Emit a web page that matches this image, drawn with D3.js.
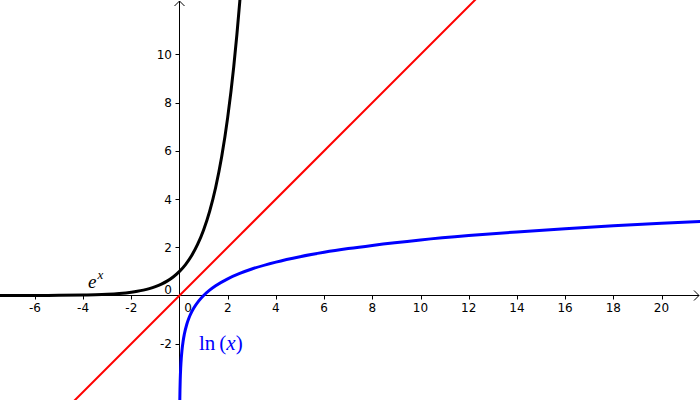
<!DOCTYPE html>
<html>
<head>
<meta charset="utf-8">
<script src="https://cdn.jsdelivr.net/npm/d3@7/dist/d3.min.js"></script>
<style>
  html, body { margin: 0; padding: 0; background: #fff; }
  svg { display: block; }
</style>
</head>
<body>
<svg id="chart" width="700" height="400"></svg>
<script>
// ---- data ----
const xTicks = [-6, -4, -2, 2, 4, 6, 8, 10, 12, 14, 16, 18, 20];
const yTicks = [-2, 2, 4, 6, 8, 10];
const xTickLabels = ["-6", "-4", "-2", "2", "4", "6", "8", "10", "12", "14", "16", "18", "20"];
const yTickLabels = ["-2", "2", "4", "6", "8", "10"];

const expX = [-7.6, -7, -6, -5, -4, -3.5, -3, -2.5, -2, -1.75, -1.5, -1.25, -1, -0.75, -0.5, -0.25, 0, 0.25, 0.5, 0.75, 1, 1.25, 1.5, 1.75, 2, 2.25, 2.5, 2.6];
const expY = [0.0005, 0.0009, 0.0025, 0.0067, 0.0183, 0.0302, 0.0498, 0.0821, 0.1353, 0.1738, 0.2231, 0.2865, 0.3679, 0.4724, 0.6065, 0.7788, 1, 1.284, 1.6487, 2.117, 2.7183, 3.4903, 4.4817, 5.7546, 7.3891, 9.4877, 12.1825, 13.4637];

// identity line
const lineX = [-4.6, 12.6];
const lineY = [-4.6, 12.6];

const lnX = [0.01, 0.013, 0.02, 0.03, 0.05, 0.075, 0.1, 0.15, 0.2, 0.3, 0.4, 0.5, 0.6, 0.8, 1, 1.25, 1.5, 2, 2.5, 3, 4, 5, 6, 7, 8, 10, 12, 14, 16, 18, 20, 21.8];
const lnY = [-4.605, -4.343, -3.912, -3.507, -2.996, -2.590, -2.303, -1.897, -1.609, -1.204, -0.916, -0.693, -0.511, -0.223, 0, 0.223, 0.405, 0.693, 0.916, 1.099, 1.386, 1.609, 1.792, 1.946, 2.079, 2.303, 2.485, 2.639, 2.773, 2.890, 2.996, 3.082];

// ---- layout ----
const W = 700, H = 400;
const ox = 179.5, oy = 295.5, unit = 24.1;
const x = d3.scaleLinear().domain([-ox / unit, (W - ox) / unit]).range([0, W]);
const y = d3.scaleLinear().domain([-(H - oy) / unit, oy / unit]).range([H, 0]);

const svg = d3.select("#chart");

svg.append("defs").append("clipPath").attr("id", "clip")
  .append("rect").attr("x", 0).attr("y", 0).attr("width", W).attr("height", H);

// axes
const axes = svg.append("g").attr("stroke", "#000").attr("stroke-width", 1).attr("fill", "none");
axes.append("line").attr("x1", 0).attr("x2", W - 1).attr("y1", y(0)).attr("y2", y(0));
axes.append("line").attr("x1", x(0)).attr("x2", x(0)).attr("y1", 1).attr("y2", H);
// arrow heads
axes.append("path").attr("d", `M${W - 6},${y(0) - 5}L${W - 1},${y(0)}L${W - 6},${y(0) + 5}`);
axes.append("path").attr("d", `M${x(0) - 5},${6}L${x(0)},${1}L${x(0) + 5},${6}`);

// ticks
axes.selectAll(".xt").data(xTicks).enter().append("line")
  .attr("x1", d => Math.round(x(d)) + 0.5).attr("x2", d => Math.round(x(d)) + 0.5)
  .attr("y1", y(0)).attr("y2", y(0) + 4);
axes.selectAll(".yt").data(yTicks).enter().append("line")
  .attr("x1", x(0) - 4).attr("x2", x(0))
  .attr("y1", d => Math.round(y(d)) + 0.5).attr("y2", d => Math.round(y(d)) + 0.5);

const labels = svg.append("g").attr("font-family", "DejaVu Sans, sans-serif").attr("font-size", 12).attr("fill", "#000");
labels.selectAll(".xl").data(xTicks).enter().append("text")
  .attr("x", d => x(d)).attr("y", y(0) + 16).attr("text-anchor", "middle")
  .text((d, i) => xTickLabels[i]);
labels.selectAll(".yl").data(yTicks).enter().append("text")
  .attr("x", x(0) - 7.5).attr("y", d => y(d) + 4.5).attr("text-anchor", "end")
  .text((d, i) => yTickLabels[i]);
// origin labels
labels.append("text").attr("x", x(0) + 8.5).attr("y", y(0) + 16).attr("text-anchor", "middle").text("0");
labels.append("text").attr("x", x(0) - 7.5).attr("y", y(0) - 1.5).attr("text-anchor", "end").text("0");

// curves
const plot = svg.append("g").attr("clip-path", "url(#clip)").attr("fill", "none");
const gen = d3.line().x(d => x(d[0])).y(d => y(d[1])).curve(d3.curveMonotoneX);

plot.append("path").datum(lineX.map((v, i) => [v, lineY[i]]))
  .attr("d", d3.line().x(d => x(d[0])).y(d => y(d[1])))
  .attr("stroke", "#ff0000").attr("stroke-width", 2);
plot.append("path").datum(expX.map((v, i) => [v, expY[i]]))
  .attr("d", gen).attr("stroke", "#000").attr("stroke-width", 3);
plot.append("path").datum(lnX.map((v, i) => [v, lnY[i]]))
  .attr("d", gen).attr("stroke", "#0000ff").attr("stroke-width", 3);

// function labels
const ex = svg.append("text").attr("x", 88).attr("y", 288)
  .attr("font-family", "Liberation Serif, serif").attr("font-size", 19).attr("fill", "#000");
ex.append("tspan").attr("font-style", "italic").text("e");
ex.append("tspan").attr("font-style", "italic").attr("font-size", 13).attr("dx", 1).attr("dy", -9).text("x");

const ln = svg.append("text").attr("x", 199).attr("y", 350)
  .attr("font-family", "Liberation Serif, serif").attr("font-size", 21).attr("fill", "#0000ff");
ln.append("tspan").text("ln");
ln.append("tspan").attr("dx", 4).text("(");
ln.append("tspan").attr("font-style", "italic").text("x");
ln.append("tspan").text(")");
</script>
</body>
</html>
